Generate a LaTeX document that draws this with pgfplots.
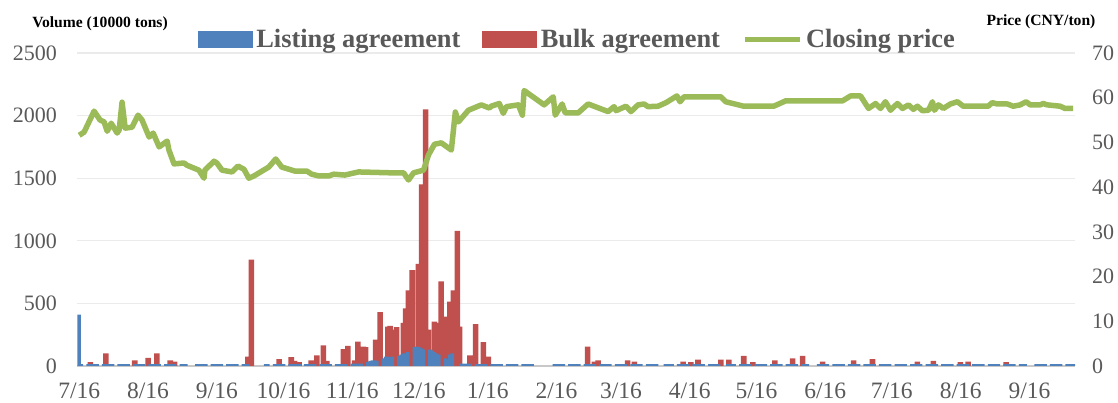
\documentclass[border=0pt]{standalone}
\usepackage{fontspec}
\setmainfont{Liberation Serif}
\usepackage{pgfplots}
\pgfplotsset{compat=1.18}
\definecolor{c1}{HTML}{4F81BD}
\definecolor{c2}{HTML}{C0504D}
\definecolor{c3}{HTML}{9BBB59}
\definecolor{tgray}{HTML}{595959}
\definecolor{gridc}{HTML}{EBEBEB}
\definecolor{basec}{HTML}{C8C8C8}
\begin{document}
\begin{tikzpicture}
\useasboundingbox (-77pt,-37pt) rectangle (1041pt,366pt);
\begin{axis}[
  at={(0pt,0pt)}, anchor=south west,
  scale only axis, width=998pt, height=313pt,
  xmin=-1, xmax=448.5, ymin=0, ymax=2500,
  axis line style={draw=none}, major tick length=0pt,
  ytick={0,500,...,2500}, ytick pos=left,
  xtick={0,31,62,92,123,153,184,215,244,275,305,336,366,397,428},
  xticklabels={7/16,8/16,9/16,10/16,11/16,12/16,1/16,2/16,3/16,4/16,5/16,6/16,7/16,8/16,9/16},
  xtick pos=bottom,
  ymajorgrids, major grid style={color=gridc, line width=1.2pt},
  extra y ticks={0}, extra y tick labels={},
  extra y tick style={major grid style={color=basec, line width=2pt}},
  scaled y ticks=false,
  /pgf/number format/1000 sep={},
  /pgf/number format/assume math mode=true,
  yticklabel style={font={\fontsize{22}{22}\selectfont}, text=tgray, inner sep=0pt, xshift=-20pt},
  xticklabel style={font={\fontsize{23.5}{23.5}\selectfont}, text=tgray, inner sep=0pt, yshift=-17pt},
]
% Bulk agreement (total stacked height)
\addplot[ybar, bar width=2.5, bar shift=0pt, fill=c2, draw=none] coordinates {
(5,30)(12,100)(25,45)(31,65)(35,100)(41,45)(43,35)
(76,75)(77.5,850)(90,55)(95.5,70)(97,40)(99,30)(104.5,45)(107,85)(110,165)(111.5,40)
(119,135)(121,160)(124,45)(125.5,195)(128,155)(129,150)(133.5,210)(135.5,430)(137,55)
(139,315)(140,320)(141.5,290)(143,310)(146,345)(147,460)(148.3,605)(150,765)(152.8,815)
(154.2,1450)(156,2050)(157.3,290)(160,355)(161.8,345)(163,675)(164.5,395)(167,515)
(168.5,605)(170.3,1080)(171.3,315)(176,85)(178.5,335)(182,190)(184.3,75)
(229,155)(232,35)(233.7,45)(247,45)(250,35)(272,35)(275.5,30)(278.7,50)(289,50)
(292.6,50)(299.3,80)(303.4,30)(313.3,45)(321.3,60)(325.8,80)(334.8,35)(348.8,45)
(357.3,55)(377.5,35)(384.7,40)(396.9,30)(400.4,35)(417.5,30)
};
% Listing agreement, full trading weeks
\addplot[ybar, bar width=5.6, bar shift=0pt, fill=c1, draw=none] coordinates {
(6,15)(13,15)(20,15)(27,15)(34,15)(41,15)(55,15)(62,15)(69,15)
(90,15)(97,15)(104,15)(111,15)(118,15)(125,18)
(174,18)(181,15)(188,15)(195,15)(202,15)
(216,15)(223,15)(230,15)(237,15)(244,15)(251,15)(258,15)
(272,15)(279,15)(286,15)(300,15)(307,15)(314,15)(321,15)
(335,15)(342,15)(349,15)(356,15)(363,15)(370,15)(377,15)(384,15)(391,15)(398,15)
(405,15)(412,15)(419,15)(433,15)(440,15)(447,15)
};
% Listing agreement, single trading days
\addplot[ybar, bar width=1.6, bar shift=0pt, fill=c1, draw=none] coordinates {
(0,410)(1,15)(46,15)(47,15)(48,15)(74,15)(75,15)(76,15)(84,15)(85,15)
(130,30)(131,40)(132,45)(133,45)(134,40)
(137,60)(138,75)(139,75)(140,70)(141,75)
(144,80)(145,90)(146,100)(147,100)(148,110)
(151,150)(152,155)(153,150)(154,140)(155,130)
(158,130)(159,125)(160,110)(161,100)(162,90)
(165,60)(166,50)(167,90)(168,100)
(264,15)(265,15)(266,15)(267,15)(292,15)(293,15)(294,15)(295,15)
(326,15)(327,15)(328,15)(424,15)(425,15)(426,15)
};
\end{axis}
\begin{axis}[
  at={(0pt,0pt)}, anchor=south west,
  scale only axis, width=998pt, height=313pt,
  xmin=-1, xmax=448.5, ymin=0, ymax=70,
  ytick={0,10,...,70}, xtick=\empty,
  axis line style={draw=none}, major tick length=0pt,
  ytick pos=right, yticklabel pos=right,
  /pgf/number format/assume math mode=true,
  yticklabel style={font={\fontsize{22}{22}\selectfont}, text=tgray, inner sep=0pt, xshift=17pt},
  legend columns=3,
  legend style={at={(0.1212,1.0447)}, anchor=west, draw=none, fill=none,
    inner sep=0pt, outer sep=0pt,
    font={\bfseries\fontsize{26.4}{26.4}\selectfont}, text=tgray,
    nodes={inner sep=0pt},
    /tikz/every odd column/.append style={column sep=4pt},
    /tikz/every even column/.append style={column sep=22pt}},
]
\addlegendimage{legend image code/.code={\fill[c1] (0pt,-8pt) rectangle (54pt,8pt);}}
\addlegendimage{legend image code/.code={\fill[c2] (0pt,-8pt) rectangle (54pt,8pt);}}
\addplot[c3, line width=5.5pt, line join=round,
  legend image code/.code={\draw[c3, line width=5pt] (0pt,0pt) -- (55pt,0pt);}] coordinates {
(0,51.6)(2.2,52.3)(6.7,57.0)(9.4,55.0)(11.2,54.6)(12.6,52.5)(14.4,54.3)(17.1,52.1)(18.0,52.8)
(19.3,59.0)(20.7,53.2)(23.8,53.4)(26.5,56.1)(28.3,55.0)(31.5,51.2)(33.3,52.1)(36.0,49.0)
(39.6,50.3)(40.4,48.3)(42.7,45.2)(47.2,45.4)(48.5,44.9)(53.9,43.8)(56.2,42.0)(56.6,43.8)
(60.7,45.8)(62.0,45.4)(64.3,43.8)(68.8,43.4)(71.5,44.7)(74.2,44.0)(76.4,42.0)(78.7,42.5)
(85.4,44.5)(88.5,46.3)(91.2,44.5)(97.1,43.6)(102.5,43.6)(104.7,42.9)(107.9,42.5)(112.4,42.5)
(114.6,42.9)(119.6,42.7)(125.8,43.4)(140.7,43.2)(146.1,43.2)(148.3,41.6)(150.6,43.2)
(155.1,43.8)(157.3,47.2)(160.0,49.6)(163.1,49.9)(167.6,48.3)(169.4,56.8)(170.8,54.6)
(175.3,57.2)(181.1,58.4)(184.7,57.7)(185.6,58.1)(189.2,58.7)(191.0,56.5)(192.4,58.0)
(197.8,58.4)(199.6,56.1)(200.4,61.6)(209.4,58.4)(213.5,60.2)(214.4,56.1)(217.5,58.6)
(218.9,56.6)(224.7,56.6)(229.2,58.6)(238.2,56.9)(240.9,58.0)(241.8,57.1)(246.3,58.1)
(248.5,56.9)(251.7,58.4)(254.4,58.6)(256.2,58.0)(260.7,58.1)(264.3,58.9)(269.2,60.4)
(270.6,59.1)(272.4,60.2)(289.0,60.2)(291.2,59.1)(299.3,58.1)(312.8,58.1)(318.2,59.3)
(343.8,59.3)(347.4,60.4)(351.9,60.4)(355.5,57.6)(358.7,58.7)(360.9,57.6)(363.1,59.1)
(365.4,57.2)(368.5,58.7)(370.8,57.6)(373.5,58.4)(375.7,57.4)(377.5,58.1)(379.8,57.1)
(382.5,57.2)(384.3,59.1)(385.2,57.2)(387.0,58.4)(389.2,57.6)(392.4,58.6)(395.5,59.1)
(398.2,58.1)(409.4,58.1)(411.2,58.9)(413.5,58.6)(418.0,58.6)(420.7,58.1)(423.8,58.4)
(426.5,59.1)(428.3,58.4)(432.8,58.4)(434.2,58.7)(436.0,58.4)(441.8,58.1)(444.0,57.6)
(447.6,57.6)
};
\legend{Listing agreement, Bulk agreement, Closing price}
\end{axis}
\node[font={\bfseries\fontsize{15.6}{15.6}\selectfont}] at (23pt,342pt) {Volume (10000 tons)};
\node[font={\bfseries\fontsize{15.6}{15.6}\selectfont}] at (964pt,344pt) {Price (CNY/ton)};
\end{tikzpicture}
\end{document}
